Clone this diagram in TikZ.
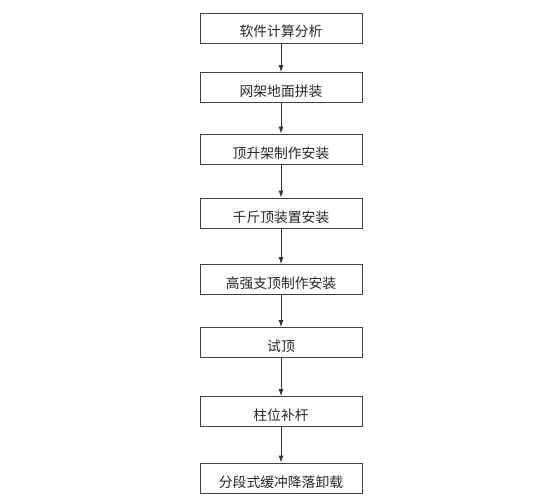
\documentclass[tikz,border=0pt]{standalone}
\usepackage{fontspec}
\newfontfamily\cjk{Noto Sans CJK SC}
\usepackage{tikz}
\usetikzlibrary{arrows.meta}

\begin{document}
\begin{tikzpicture}[x=1pt,y=-1pt,
		box/.style={draw=black!75,line width=.9pt,minimum width=162pt,minimum height=30pt,
			text height=18pt,text depth=0pt,font=\cjk\fontsize{13.8}{15}\selectfont,text=black!85},
		arr/.style={draw=black!80,line width=.9pt,-{Latex[length=7pt,width=5pt]}}]
			\useasboundingbox (0,0) rectangle (557,500);
			\node[box] (soft) at (281,28) {软件计算分析};
			\node[box] (grid) at (281,87.5) {网架地面拼装};
			\node[box] (frame) at (281,149) {顶升架制作安装};
			\node[box] (jack) at (281,213) {千斤顶装置安装};
			\node[box] (prop) at (281,279.5) {高强支顶制作安装};
			\node[box] (trial) at (281,342.5) {试顶};
			\node[box] (column) at (281,411.5) {柱位补杆};
			\node[box] (unload) at (281,478) {分段式缓冲降落卸载};
			\draw[arr](soft) -- (grid);
			\draw[arr](grid) -- (frame);
			\draw[arr](frame) -- (jack);
			\draw[arr](jack) -- (prop);
			\draw[arr](prop) -- (trial);
			\draw[arr](trial) -- (column);
			\draw[arr](column) -- (unload);
		\end{tikzpicture}
\end{document}
